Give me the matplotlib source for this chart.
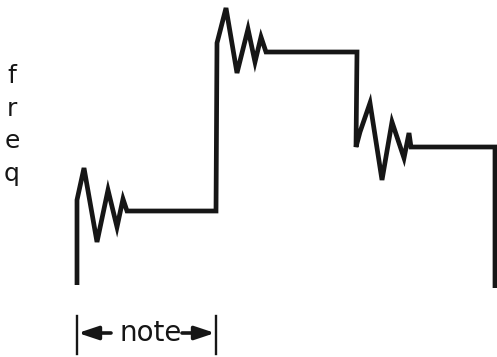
import matplotlib
matplotlib.use("Agg")
import matplotlib.pyplot as plt

# pitch trace over three notes (x = time, y = frequency, both in image units, y grows downward)
trace_t = [77, 77, 84, 97, 108, 117, 123, 127, 216,
           217, 226, 237, 248, 255, 261, 266, 357,
           356, 360, 370, 382, 392, 404, 409, 411, 495, 495]
trace_f = [285, 200, 168, 242, 190, 227, 199, 211, 211,
           43, 8, 73, 29, 62, 37, 52, 52,
           147, 132, 103, 180, 122, 158, 133, 147, 147, 288]

# one note duration marker
note_start = 77
note_end = 216
note_label = "note"
axis_label = "freq"

ink = "#161616"

fig = plt.figure(figsize=(4.97, 3.57), dpi=100)
ax = fig.add_axes([0, 0, 1, 1])
ax.set_xlim(0, 497)
ax.set_ylim(357, 0)
ax.axis("off")

ax.plot(trace_t, trace_f, color=ink, lw=3.4, solid_joinstyle="miter",
        solid_capstyle="butt")

# duration bars + arrows
ax.plot([note_start, note_start], [316, 354], color=ink, lw=1.7)
ax.plot([note_end, note_end], [316, 354], color=ink, lw=1.7)
head = "-|>,head_length=1.2,head_width=0.4"
ax.annotate("", xy=(note_start + 1, 333), xytext=(111, 333),
            arrowprops=dict(arrowstyle=head, color=ink, lw=2.6,
                            shrinkA=0, shrinkB=0))
ax.annotate("", xy=(note_end - 1, 333), xytext=(182, 333),
            arrowprops=dict(arrowstyle=head, color=ink, lw=2.6,
                            shrinkA=0, shrinkB=0))
ax.text(151, 333, note_label, fontsize=20, ha="center", va="center",
        color=ink)

# vertical "freq" label, one letter per line
for i, ch in enumerate(axis_label):
    ax.text(12, 76 + i * 32.5, ch, fontsize=18, ha="center", va="center",
            color=ink)

fig.savefig("out.png", dpi=100)
